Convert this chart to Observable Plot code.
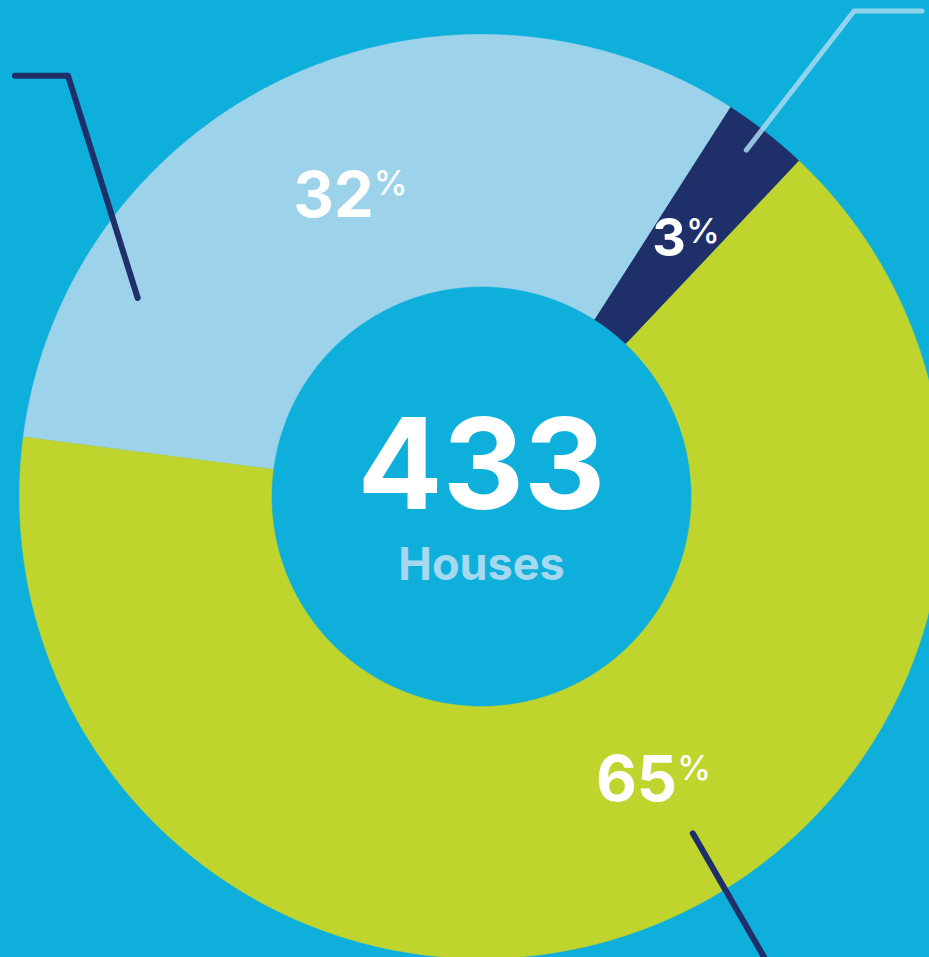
<!DOCTYPE html>
<html>
<head>
<meta charset="utf-8">
<script src="https://cdn.jsdelivr.net/npm/d3@7"></script>
<script src="https://cdn.jsdelivr.net/npm/@observablehq/plot@0.6"></script>
<style>
html, body { margin: 0; padding: 0; background: #0eb0db; overflow: hidden; }
#chart svg { display: block; }
</style>
</head>
<body>
<div id="chart"></div>
<script>
// ---- data ----
const segmentKeys = ["light blue share", "navy share", "green share"];
const shares = [32, 3, 65];
const totalCount = 433;
const totalLabel = "Houses";
const percentSign = "%";

// ---- layout / style (not data) ----
const W = 929, H = 957;
const cx = 481, cy = 496;
const R_OUT = 462, R_IN = 210;
const START = 277.4;
const FONT = "Inter, 'Liberation Sans', Arial, sans-serif";
const BG = "#0eb0db";
const colorRange = ["#9dd3ea", "#1e2f6a", "#c0d42e"];
const NAVY = "#1e2f6a";
const LIGHT = "#a8d9ef";

const total = d3.sum(shares);
let acc = START;
const slices = shares.map((v, i) => {
  const a0 = acc, a1 = acc + v / total * 360;
  acc = a1;
  return {key: segmentKeys[i], share: v, a0, a1, mid: (a0 + a1) / 2};
});

const rad = d => d * Math.PI / 180;
const polar = (deg, r) => ({x: r * Math.sin(rad(deg)), y: r * Math.cos(rad(deg))});

const ringPoints = slices.flatMap(s => {
  const n = Math.max(2, Math.ceil((s.a1 - s.a0) / 0.25));
  const pts = [];
  for (let k = 0; k <= n; k++) pts.push({key: s.key, ...polar(s.a0 + (s.a1 - s.a0) * k / n, R_OUT)});
  for (let k = n; k >= 0; k--) pts.push({key: s.key, ...polar(s.a0 + (s.a1 - s.a0) * k / n, R_IN)});
  return pts;
});

// text measuring
const ctx = document.createElement("canvas").getContext("2d");
function textW(str, size, weight = 700) { ctx.font = `${weight} ${size}px ${FONT}`; return ctx.measureText(str).width; }

// slice labels
const labelShift = [1.6, 0.3, -11.8];
const LABEL_R = 330;
const PCT_FS = 34;
const numLabels = [], pctLabels = [];
slices.forEach((s, i) => {
  const fs = s.share >= 10 ? 63 : 52;
  const c = polar(s.mid + labelShift[i], LABEL_R);
  const num = String(s.share);
  const numW = textW(num, fs), pctW = textW(percentSign, PCT_FS, 500);
  const gap = 0;
  const tot = numW + gap + pctW;
  const joint = c.x - tot / 2 + numW;
  const cap = 0.727 * fs;
  const baseline = c.y - cap / 2;
  const top = c.y + cap / 2;
  numLabels.push({x: joint, y: baseline, text: num, fs});
  pctLabels.push({x: joint + gap, y: top - 0.72 * PCT_FS, text: percentSign});
});

// leader lines (annotation geometry, polar)
const leaderNavy = [];
{
  const p0 = polar(300, 397), p1 = polar(315.5, 590);
  leaderNavy.push({g: "a", ...p0}, {g: "a", ...p1}, {g: "a", x: p1.x - 53, y: p1.y});
  const q0 = polar(147.9, 397.6), q1 = polar(148.8, 680);
  leaderNavy.push({g: "b", ...q0}, {g: "b", ...q1});
}
const leaderLight = [];
{
  const s = slices[1];
  const p0 = polar(s.mid - 0.6, 436), p1 = polar(s.mid - 0.5, 612);
  leaderLight.push(p0, p1, {x: p1.x + 68, y: p1.y});
}

const chart = Plot.plot({
  width: W, height: H, margin: 0,
  x: {domain: [-cx, W - cx], axis: null},
  y: {domain: [-(H - cy), cy], axis: null},
  color: {domain: segmentKeys, range: colorRange},
  style: {background: BG, fontFamily: FONT, overflow: "hidden"},
  marks: [
    Plot.line(ringPoints, {x: "x", y: "y", z: "key", fill: "key", stroke: "key", strokeWidth: 0.6, curve: "linear"}),
    Plot.line(leaderNavy, {x: "x", y: "y", z: "g", stroke: NAVY, strokeWidth: 6, strokeLinecap: "round", strokeLinejoin: "round"}),
    Plot.line(leaderLight, {x: "x", y: "y", stroke: LIGHT, strokeOpacity: 0.85, strokeWidth: 5, strokeLinecap: "round", strokeLinejoin: "round"}),
    Plot.text(numLabels, {x: "x", y: "y", text: "text", fontSize: "fs", fill: "white", fontWeight: 700, textAnchor: "end", lineAnchor: "bottom"}),
    Plot.text(pctLabels, {x: "x", y: "y", text: "text", fontSize: PCT_FS, fill: "white", fontWeight: 500, textAnchor: "start", lineAnchor: "bottom"}),
    Plot.text([String(totalCount)], {x: () => 0, y: () => -12, text: d => d, fontSize: 126, fill: "white", fontWeight: 700, textAnchor: "middle", lineAnchor: "bottom"}),
    Plot.text([totalLabel], {x: () => 0, y: () => -83, text: d => d, fontSize: 45, fill: "#a6d9f0", fontWeight: 700, textAnchor: "middle", lineAnchor: "bottom"})
  ]
});
document.getElementById("chart").appendChild(chart);
</script>
</body>
</html>
